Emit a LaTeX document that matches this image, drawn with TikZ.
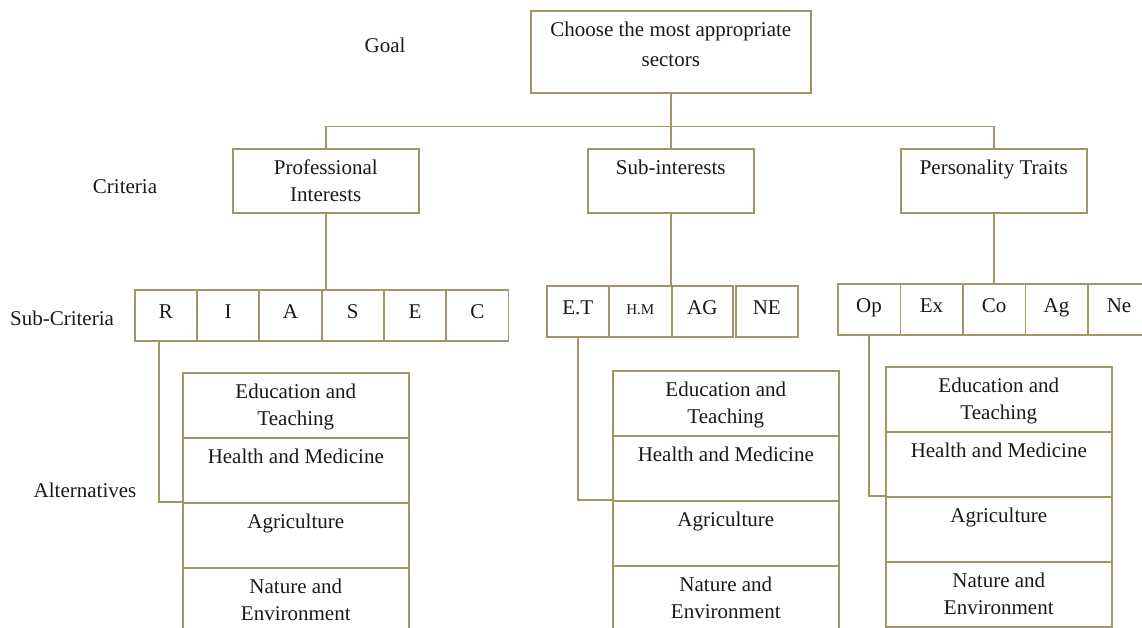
\documentclass[tikz,border=0pt]{standalone}
\usepackage{fontspec}
\setmainfont{Liberation Serif}
\usetikzlibrary{positioning}
\definecolor{boxline}{RGB}{160,150,108}
\definecolor{txt}{RGB}{25,25,25}
% text that sits at the top of a fixed-size box
\newcommand{\boxtext}[3]{\parbox[c][#2][t]{#1}{\centering\rule{0pt}{26pt}#3}}

\begin{document}
\begin{tikzpicture}[x=1pt, y=-1pt, font=\fontsize{21}{27}\selectfont, text=txt,
    frame/.style={draw=boxline, line width=1.6pt, inner sep=0pt, anchor=north west},
    cell/.style={frame, minimum width=62pt, minimum height=51pt, text height=14pt, text depth=8pt},
    link/.style={draw=boxline, line width=1.6pt}]
    \useasboundingbox (0,0) rectangle (1142,628);

    % Goal and criteria
    \node[frame] (goal) at (530,10) {\boxtext{280pt}{82pt}{Choose the most appropriate\\[3pt]sectors}};
    \node[frame] (prof) at (232,148) {\boxtext{186pt}{64pt}{Professional\\Interests}};
    \node[frame] (sub) at (587,148) {\boxtext{166pt}{64pt}{Sub-interests}};
    \node[frame] (pers) at (900,148) {\boxtext{186pt}{64pt}{Personality Traits}};

    % Level labels
    \node (lgoal) at (385,45) {Goal};
    \node (lcrit) at (125,187) {Criteria};
    \node (lsub) at (62,318) {Sub-Criteria};
    \node (lalt) at (85,490) {Alternatives};

    % Sub-criteria cells
    \foreach \l [count=\i] in {R,I,A,S,E,C} {
        \node[cell] (\l) at ({134+62.33*(\i-1)},289) {\l};
    }
    \node[cell] (et) at (546,285) {E.T};
    \node[cell, minimum width=63pt, font=\fontsize{15}{18}\selectfont] (hm) at (608,285) {H.M};
    \node[cell, minimum width=61pt] (ag) at (671,285) {AG};
    \node[cell] (ne) at (735,285) {NE};
    \foreach \n/\l [count=\i] in {op/Op, ex/Ex, co/Co, agr/Ag, neu/Ne} {
        \node[cell, minimum width=62.5pt] (\n) at ({837+62.5*(\i-1)},283) {\l};
    }

    % Alternatives, one column per criterion
    \foreach \col/\x/\y in {p/182/372, s/612/370, t/885/366} {
        \foreach \k/\alt in {1/{Education and\\Teaching}, 2/{Health and Medicine}, 3/{Agriculture}, 4/{Nature and\\Environment}} {
            \node[frame] (\col\k) at (\x,{\y+65*(\k-1)}) {\boxtext{226pt}{65pt}{\alt}};
        }
    }

    % Connectors
    \draw[link] (goal.south) -- ++(0,33) coordinate (bus);
    \draw[link] (prof.north) -- (prof.north |- bus) -| (pers.north);
    \draw[link] (bus) -- (sub.north);
    \draw[link] (prof.south) -- (prof.south |- S.north);
    \draw[link] (sub.south) -- (sub.south |- hm.north);
    \draw[link] (pers.south) -- (pers.south |- co.north);
    \draw[link] ([xshift=-7pt]R.south) |- (p3.north west);
    \draw[link] (et.south) |- (s3.north west);
    \draw[link] (op.south) |- (t3.north west);
\end{tikzpicture}
\end{document}
